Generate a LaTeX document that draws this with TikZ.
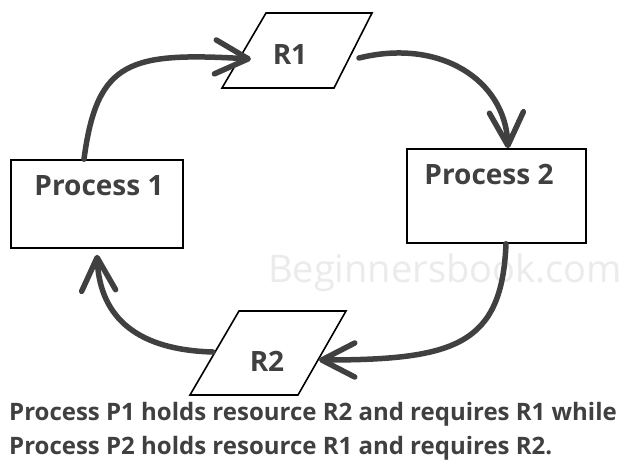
\documentclass[tikz,border=0pt]{standalone}
\usepackage{fontspec}
\setmainfont{Open Sans}
\usetikzlibrary{arrows.meta}
\definecolor{ink}{HTML}{404040}
\tikzset{
  procbox/.style={draw=black,line width=1.6pt,fill=white,inner sep=0pt},
  resline/.style={draw=black,line width=1.6pt,fill=white,line join=miter},
  lbl/.style={text=ink,font=\bfseries\fontsize{28}{32}\selectfont,inner sep=0pt},
  rlbl/.style={text=ink,font=\bfseries\fontsize{28}{32}\selectfont,inner sep=0pt},
  captext/.style={text=ink,font=\bfseries\fontsize{24}{28}\selectfont,inner sep=0pt,anchor=west},
  flow/.style={draw=ink,line width=5.5pt,line cap=round,-{Straight Barb[length=33pt,width=34pt,line width=5.5pt,round]}},
}
\begin{document}
\begin{tikzpicture}[x=1pt,y=-1pt]
\useasboundingbox[fill=white] (0,0) rectangle (625,461);
\node[text=black!8,font=\fontsize{38}{40}\selectfont,inner sep=0pt,anchor=west] (wm) at (268,273) {Beginnersbook.com};
\node[procbox,minimum width=172pt,minimum height=88pt] (p1) at (97,204) {};
\node[lbl] (p1t) at (99,186) {Process 1};
\node[procbox,minimum width=179pt,minimum height=94pt] (p2) at (496.5,196) {};
\node[lbl] (p2t) at (489,174) {Process 2};
% resource R1
\draw[resline] (222,88) -- (266,13) -- (372,13) -- (334,88) -- cycle;
\coordinate (r1) at (297,50.5);
\node[rlbl] (r1t) at (290,55) {R1};
% resource R2
\draw[resline] (190,395) -- (239,311) -- (346,311) -- (298,395) -- cycle;
\coordinate (r2) at (268,353);
\node[rlbl] (r2t) at (267,361) {R2};
% connectors
\draw[flow] ([xshift=-13pt]p1.north) .. controls (97,60) and (130,52) .. ([xshift=-46pt,yshift=-8.5pt]r1);
\draw[flow] ([xshift=62pt,yshift=-7.5pt]r1) .. controls (440,38) and (505,80) .. ([xshift=11.5pt]p2.north);
\draw[flow] ([xshift=9.5pt]p2.south) .. controls (502,345) and (455,360) .. ([xshift=51pt,yshift=-7pt]r2);
\draw[flow] ([xshift=-55pt,yshift=1pt]r2) .. controls (140,350) and (100,320) .. ([yshift=-6pt]p1.south);
\node[captext] (c1) at (9,414) {Process P1 holds resource R2 and requires R1 while};
\node[captext] (c2) at (9,448) {Process P2 holds resource R1 and requires R2.};
\end{tikzpicture}
\end{document}
